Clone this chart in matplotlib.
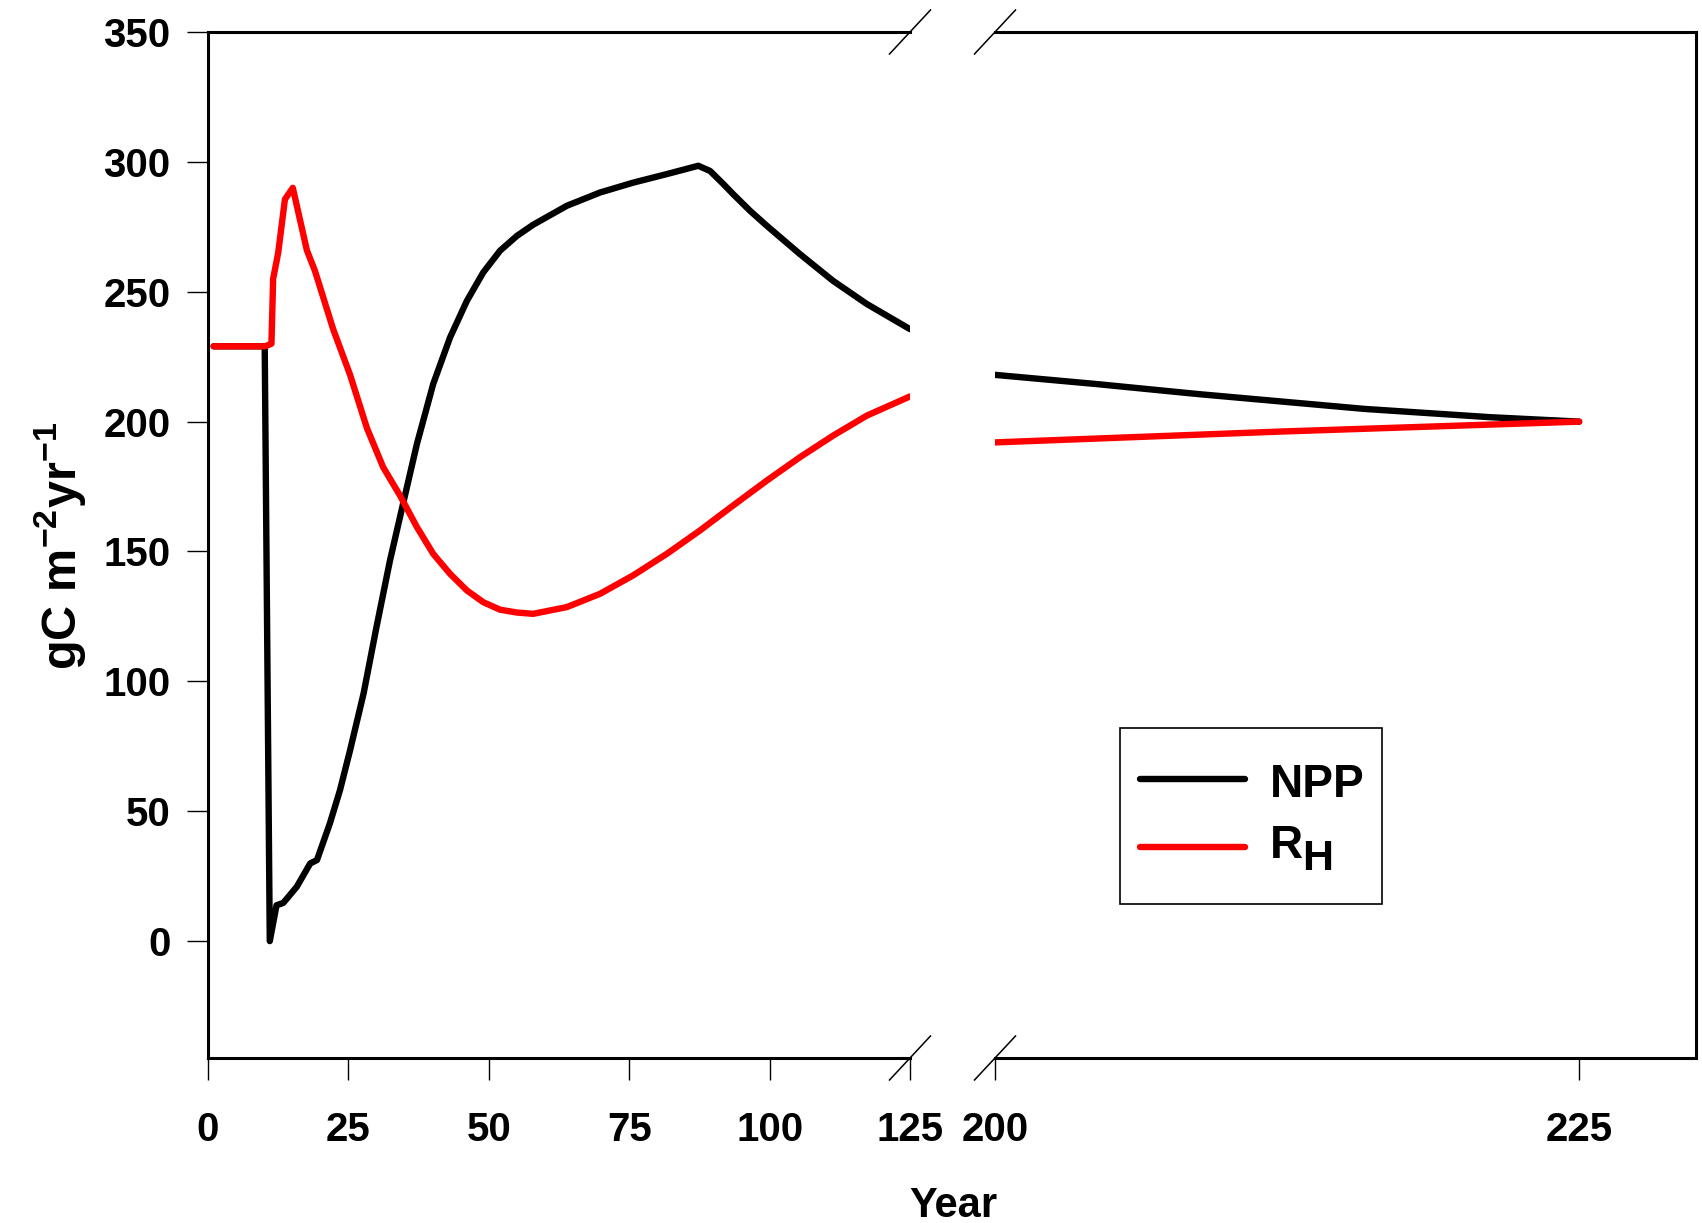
import matplotlib.pyplot as plt
from matplotlib.lines import Line2D
from matplotlib.patches import Rectangle

# NPP and heterotrophic respiration (gC m-2 yr-1), years 0-125 and 200-225
npp_years = [1, 10.1, 11, 12.2, 13.4, 15.8, 18.2, 19.4, 21.7, 23.5, 25.3, 27.7, 30, 32.4, 34.8,
             37.2, 40.1, 43.1, 46.1, 49, 52, 55, 57.9, 63.9, 69.8, 75.7, 81.7, 87.3, 89.4, 91.8,
             93.5, 96.5, 99.5, 105.4, 111.3, 117.3, 125]
npp_values = [229, 229, 0, 13.8, 14.7, 20.9, 29.9, 31.2, 45.3, 58.1, 73.5, 95.3, 120.9, 146.5, 169,
              191.4, 214.5, 232.4, 246.5, 257.4, 265.8, 271.5, 275.8, 283.1, 288.2, 292, 295.3, 298.5,
              296.5, 291.4, 287.6, 281.2, 275.4, 264.5, 254.2, 245.3, 235.6]
rh_years = [1, 10.2, 11.3, 11.6, 12.5, 13.7, 15.1, 17.6, 19.05, 22.3, 25.3, 28.3, 31.2, 34.2, 37.2,
            40.1, 43.1, 46.1, 49, 52, 55, 57.9, 63.9, 69.8, 75.7, 81.7, 87.6, 93.5, 99.5, 105.4,
            111.3, 117.3, 125]
rh_values = [229, 229, 230, 255, 265, 285.6, 290, 266, 258, 235.5, 218, 197.5, 182.4, 171.5, 159.4,
             149.1, 141.4, 135, 130.5, 127.6, 126.5, 126, 128.6, 133.7, 140.8, 149.1, 158.1, 167.7,
             177.3, 186.3, 194.6, 202.3, 209.7]

npp_years_late = [200, 204.3, 208.7, 215.8, 221.2, 225]
npp_values_late = [218, 214.5, 210.6, 204.9, 201.7, 200]
rh_years_late = [200, 212.3, 225]
rh_values_late = [192, 196.2, 200]

plt.rcParams['font.family'] = ['Liberation Sans', 'DejaVu Sans']
plt.rcParams['font.weight'] = 'bold'
plt.rcParams['mathtext.fontset'] = 'custom'
plt.rcParams['mathtext.rm'] = 'Liberation Sans:bold'
plt.rcParams['mathtext.it'] = 'Liberation Sans:bold'
plt.rcParams['mathtext.bf'] = 'Liberation Sans:bold'
plt.rcParams['mathtext.default'] = 'rm'

fig = plt.figure(figsize=(17.02, 12.23), dpi=100)
W, H = 1702, 1223


def fx(px):
    return px / W


def fy(py):
    return 1 - py / H


bottom = fy(1058)
height = (1058 - 32) / H
ax1 = fig.add_axes([fx(208), bottom, fx(910 - 208), height])
ax2 = fig.add_axes([fx(995), bottom, fx(1696 - 995), height])

lw = 4.6
ax1.plot(npp_years, npp_values, color='black', lw=lw, solid_capstyle='round', solid_joinstyle='round')
ax1.plot(rh_years, rh_values, color='red', lw=lw, solid_capstyle='round', solid_joinstyle='round')
ax2.plot(npp_years_late, npp_values_late, color='black', lw=lw, solid_capstyle='round')
ax2.plot(rh_years_late, rh_values_late, color='red', lw=lw, solid_capstyle='round')

for ax in (ax1, ax2):
    ax.set_ylim(-45, 350)
    for s in ax.spines.values():
        s.set_linewidth(2.2)
ax1.set_xlim(0, 125)
ax2.set_xlim(200, 230)

ax1.spines['right'].set_visible(False)
ax2.spines['left'].set_visible(False)

ax1.set_yticks([0, 50, 100, 150, 200, 250, 300, 350])
ax1.set_xticks([0, 25, 50, 75, 100, 125])
ax2.set_xticks([200, 225])
ax2.set_yticks([])

ax1.tick_params(axis='y', direction='out', length=15, width=1, labelsize=29, pad=12)
ax1.tick_params(axis='x', direction='out', length=16, width=1, labelsize=29, pad=22)
ax2.tick_params(axis='x', direction='out', length=16, width=1, labelsize=29, pad=22)

# diagonal break marks
dx, dy = 20.5, 22
for ax, xpos, wpx in ((ax1, 1, 702), (ax2, 0, 701)):
    for ypos in (0, 1):
        ax.plot([xpos - dx / wpx, xpos + dx / wpx], [ypos - dy / 1026, ypos + dy / 1026],
                transform=ax.transAxes, color='black', lw=1.1, clip_on=False)

fig.text(fx(60), fy(546), r'gC m$^{-2}$yr$^{-1}$', rotation=90, ha='center', va='center',
         fontsize=35, fontweight='bold')
fig.text(fx(953), fy(1217), 'Year', ha='center', va='baseline', fontsize=30, fontweight='bold')

# legend box
fig.add_artist(Rectangle((fx(1120), fy(904)), fx(262), 176 / H, transform=fig.transFigure,
                         facecolor='white', edgecolor='black', lw=1.2, zorder=5))
fig.add_artist(Line2D([fx(1140), fx(1245)], [fy(779), fy(779)], transform=fig.transFigure,
                      color='black', lw=lw, solid_capstyle='round', zorder=6))
fig.add_artist(Line2D([fx(1140), fx(1245)], [fy(847), fy(847)], transform=fig.transFigure,
                      color='red', lw=lw, solid_capstyle='round', zorder=6))
fig.text(fx(1270), fy(797), 'NPP', fontsize=33, fontweight='bold', va='baseline', zorder=6)
fig.text(fx(1270), fy(858), 'R', fontsize=33, fontweight='bold', va='baseline', zorder=6)
fig.text(fx(1302), fy(870), 'H', fontsize=31, fontweight='bold', va='baseline', zorder=6)

plt.savefig('out.png', dpi=100)
